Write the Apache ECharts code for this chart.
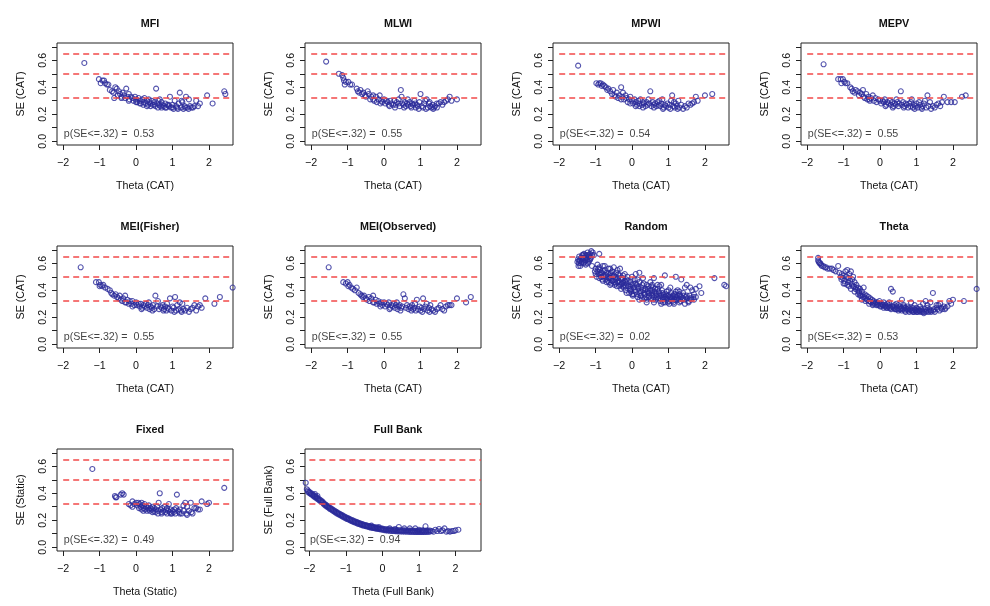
<!DOCTYPE html>
<html><head><meta charset="utf-8">
<script src="https://cdn.jsdelivr.net/npm/echarts@6/dist/echarts.min.js"></script>
<style>html,body{margin:0;padding:0;background:#fff}#c{width:990px;height:606px}</style>
</head><body><div id="c"></div>
<script>
// ---------------- DATA ----------------
const panelTitles = ['MFI','MLWI','MPWI','MEPV','MEI(Fisher)','MEI(Observed)','Random','Theta','Fixed','Full Bank'];
const xNames = ['Theta (CAT)','Theta (CAT)','Theta (CAT)','Theta (CAT)','Theta (CAT)','Theta (CAT)','Theta (CAT)','Theta (CAT)','Theta (Static)','Theta (Full Bank)'];
const yNames = ['SE (CAT)','SE (CAT)','SE (CAT)','SE (CAT)','SE (CAT)','SE (CAT)','SE (CAT)','SE (CAT)','SE (Static)','SE (Full Bank)'];
const pValues = ['0.53','0.55','0.54','0.55','0.55','0.55','0.02','0.53','0.49','0.94'];
const refLines = [0.32, 0.5, 0.65];
const refStart = -2;
const pTextPos = [-2, 0.055];
const xTicks = [-2,-1,0,1,2];
const yTicks = [0,0.1,0.2,0.3,0.4,0.5,0.6,0.7];
const yTickLabels = [0,0.2,0.4,0.6];
const yLimits = [-0.028, 0.728];
const xLimitsStd = [-2.17, 2.66];
const xLimitsFull = [-2.12, 2.70];

const mfi = [[-1.42,0.58],[-1.02,0.46],[-0.97,0.43],[-0.92,0.45],[-0.88,0.45],[-0.85,0.43],[-0.8,0.42],[-0.76,0.42],[-0.72,0.38],[-0.66,0.37],[-0.62,0.36],[-0.57,0.40],[-0.53,0.39],[-0.5,0.34],[-0.47,0.37],[-0.44,0.35],[-0.4,0.33],[-0.37,0.36],[-0.33,0.34],[-0.3,0.32],[-0.27,0.39],[-0.24,0.33],[-0.2,0.35],[-0.18,0.31],[-0.14,0.33],[-0.1,0.32],[-0.07,0.30],[-0.03,0.33],[0.0,0.31],[0.03,0.29],[0.07,0.32],[0.1,0.30],[0.13,0.28],[0.17,0.31],[0.2,0.29],[0.23,0.32],[0.26,0.28],[0.3,0.30],[0.33,0.27],[0.36,0.29],[0.4,0.28],[0.43,0.30],[0.46,0.27],[0.5,0.29],[0.53,0.26],[0.55,0.39],[0.58,0.28],[0.61,0.30],[0.64,0.27],[0.67,0.26],[0.7,0.29],[0.73,0.27],[0.76,0.26],[0.8,0.28],[0.83,0.25],[0.86,0.27],[0.9,0.26],[0.93,0.33],[0.96,0.25],[1.0,0.27],[1.03,0.24],[1.06,0.30],[1.1,0.26],[1.13,0.25],[1.17,0.28],[1.2,0.36],[1.23,0.25],[1.27,0.29],[1.3,0.24],[1.33,0.26],[1.37,0.33],[1.4,0.25],[1.44,0.24],[1.48,0.26],[1.52,0.25],[1.56,0.25],[1.6,0.26],[1.65,0.30],[1.7,0.26],[1.75,0.28],[1.95,0.34],[2.1,0.28],[2.42,0.37],[2.45,0.35],[0.2,0.27],[0.4,0.26],[0.6,0.25],[0.8,0.25],[1.0,0.25],[0.1,0.28],[-0.2,0.30],[0.3,0.26],[0.5,0.27],[0.7,0.25],[0.9,0.27],[1.15,0.24],[1.35,0.25],[0.0,0.29],[-0.4,0.32],[-0.6,0.32],[1.25,0.30],[1.45,0.31],[0.35,0.31],[0.65,0.31]];

const mlwi = [[-1.59,0.59],[-1.24,0.50],[-1.15,0.49],[-1.12,0.47],[-1.1,0.45],[-1.05,0.44],[-0.98,0.44],[-1.08,0.42],[-0.93,0.42],[-0.88,0.42],[-0.75,0.39],[-0.72,0.37],[-0.68,0.36],[-0.65,0.38],[-0.6,0.35],[-0.57,0.36],[-0.52,0.34],[-0.5,0.33],[-0.45,0.37],[-0.42,0.35],[-0.38,0.31],[-0.35,0.33],[-0.3,0.34],[-0.27,0.30],[-0.22,0.33],[-0.2,0.29],[-0.15,0.31],[-0.12,0.34],[-0.08,0.30],[-0.05,0.29],[0.0,0.31],[0.03,0.28],[0.07,0.30],[0.1,0.29],[0.13,0.27],[0.17,0.30],[0.2,0.28],[0.25,0.27],[0.28,0.30],[0.32,0.27],[0.35,0.29],[0.4,0.28],[0.43,0.26],[0.46,0.38],[0.48,0.33],[0.5,0.28],[0.53,0.27],[0.57,0.29],[0.6,0.26],[0.63,0.28],[0.67,0.27],[0.7,0.29],[0.73,0.26],[0.77,0.28],[0.8,0.27],[0.83,0.30],[0.87,0.25],[0.9,0.27],[0.93,0.26],[0.97,0.29],[1.0,0.35],[1.03,0.26],[1.07,0.25],[1.1,0.28],[1.13,0.30],[1.17,0.31],[1.2,0.25],[1.23,0.28],[1.27,0.26],[1.3,0.25],[1.33,0.27],[1.37,0.25],[1.4,0.26],[1.45,0.25],[1.5,0.28],[1.55,0.29],[1.6,0.27],[1.65,0.29],[1.7,0.30],[1.75,0.31],[1.8,0.33],[1.85,0.30],[2.0,0.31],[-0.1,0.28],[0.15,0.26],[0.3,0.25],[0.55,0.25],[0.75,0.25],[0.95,0.24],[1.15,0.24],[1.35,0.24],[-0.3,0.31],[0.4,0.31],[0.65,0.31],[0.85,0.28],[1.25,0.29],[1.45,0.28]];

const mpwi = [[-1.48,0.56],[-0.98,0.43],[-0.93,0.42],[-0.9,0.43],[-0.86,0.43],[-0.83,0.41],[-0.8,0.42],[-0.76,0.41],[-0.72,0.40],[-0.68,0.38],[-0.65,0.39],[-0.6,0.37],[-0.55,0.35],[-0.52,0.38],[-0.48,0.34],[-0.45,0.33],[-0.42,0.36],[-0.38,0.32],[-0.35,0.34],[-0.3,0.40],[-0.27,0.33],[-0.25,0.36],[-0.22,0.31],[-0.18,0.34],[-0.15,0.32],[-0.12,0.29],[-0.08,0.31],[-0.05,0.33],[0.0,0.30],[0.03,0.28],[0.07,0.31],[0.1,0.29],[0.13,0.27],[0.17,0.30],[0.2,0.28],[0.23,0.31],[0.27,0.27],[0.3,0.29],[0.33,0.28],[0.37,0.26],[0.4,0.29],[0.43,0.27],[0.47,0.28],[0.5,0.37],[0.53,0.26],[0.57,0.29],[0.6,0.27],[0.63,0.28],[0.67,0.26],[0.7,0.29],[0.73,0.27],[0.77,0.26],[0.8,0.28],[0.83,0.31],[0.87,0.25],[0.9,0.27],[0.93,0.26],[0.97,0.28],[1.0,0.25],[1.03,0.27],[1.07,0.30],[1.1,0.34],[1.13,0.26],[1.17,0.25],[1.2,0.28],[1.23,0.26],[1.27,0.30],[1.3,0.25],[1.35,0.27],[1.4,0.24],[1.45,0.26],[1.5,0.25],[1.55,0.28],[1.6,0.27],[1.65,0.28],[1.7,0.29],[1.75,0.33],[1.8,0.30],[2.0,0.34],[2.2,0.35],[-0.3,0.31],[0.1,0.26],[0.3,0.25],[0.6,0.25],[0.85,0.24],[1.05,0.24],[1.25,0.24],[0.45,0.31],[0.75,0.30],[1.15,0.29],[-0.05,0.28],[0.2,0.26]];

const mepv = [[-1.55,0.57],[-1.15,0.46],[-1.08,0.46],[-1.02,0.46],[-1.06,0.43],[-0.98,0.44],[-0.95,0.43],[-0.9,0.43],[-0.82,0.40],[-0.78,0.39],[-0.75,0.37],[-0.7,0.36],[-0.67,0.38],[-0.62,0.37],[-0.58,0.34],[-0.55,0.36],[-0.5,0.35],[-0.47,0.38],[-0.45,0.33],[-0.42,0.32],[-0.38,0.35],[-0.35,0.31],[-0.32,0.33],[-0.28,0.30],[-0.25,0.32],[-0.2,0.34],[-0.17,0.30],[-0.13,0.32],[-0.1,0.29],[-0.05,0.31],[0.0,0.30],[0.03,0.28],[0.07,0.30],[0.1,0.29],[0.13,0.31],[0.17,0.27],[0.2,0.29],[0.23,0.28],[0.27,0.30],[0.3,0.27],[0.33,0.29],[0.37,0.26],[0.4,0.28],[0.43,0.27],[0.47,0.29],[0.5,0.26],[0.53,0.28],[0.57,0.37],[0.6,0.27],[0.63,0.29],[0.67,0.26],[0.7,0.28],[0.73,0.27],[0.77,0.25],[0.8,0.28],[0.83,0.26],[0.87,0.31],[0.9,0.25],[0.93,0.27],[0.97,0.26],[1.0,0.28],[1.03,0.25],[1.07,0.29],[1.1,0.27],[1.13,0.25],[1.17,0.26],[1.2,0.28],[1.23,0.30],[1.27,0.25],[1.3,0.34],[1.33,0.26],[1.37,0.29],[1.4,0.24],[1.45,0.26],[1.5,0.25],[1.55,0.27],[1.6,0.28],[1.65,0.26],[1.7,0.29],[1.75,0.33],[1.85,0.29],[1.95,0.29],[2.05,0.29],[2.25,0.33],[2.35,0.34],[-0.3,0.31],[0.15,0.26],[0.35,0.25],[0.65,0.25],[0.95,0.24],[1.15,0.24],[0.45,0.31],[0.85,0.29]];

const meiFisher = [[-1.52,0.57],[-1.1,0.46],[-1.02,0.46],[-0.98,0.44],[-1.0,0.43],[-0.93,0.43],[-0.9,0.44],[-0.85,0.42],[-0.78,0.41],[-0.72,0.40],[-0.68,0.38],[-0.65,0.37],[-0.6,0.36],[-0.56,0.37],[-0.52,0.35],[-0.48,0.34],[-0.45,0.36],[-0.42,0.33],[-0.38,0.32],[-0.35,0.34],[-0.3,0.36],[-0.27,0.31],[-0.24,0.33],[-0.2,0.30],[-0.17,0.32],[-0.13,0.30],[-0.1,0.32],[-0.05,0.29],[0.0,0.31],[0.03,0.29],[0.07,0.30],[0.1,0.28],[0.13,0.30],[0.17,0.27],[0.2,0.29],[0.23,0.28],[0.27,0.30],[0.3,0.27],[0.33,0.29],[0.37,0.26],[0.4,0.28],[0.43,0.27],[0.47,0.29],[0.5,0.26],[0.53,0.36],[0.57,0.28],[0.6,0.32],[0.63,0.26],[0.67,0.28],[0.7,0.27],[0.73,0.29],[0.77,0.26],[0.8,0.28],[0.83,0.25],[0.87,0.27],[0.9,0.26],[0.93,0.34],[0.97,0.25],[1.0,0.28],[1.03,0.27],[1.07,0.35],[1.1,0.25],[1.13,0.29],[1.17,0.26],[1.2,0.31],[1.23,0.25],[1.27,0.30],[1.3,0.26],[1.35,0.25],[1.4,0.27],[1.45,0.24],[1.5,0.26],[1.55,0.27],[1.6,0.29],[1.65,0.25],[1.7,0.28],[1.75,0.29],[1.8,0.27],[1.9,0.34],[2.15,0.30],[2.3,0.35],[2.65,0.42],[-0.3,0.31],[0.15,0.26],[0.45,0.25],[0.75,0.25],[1.05,0.24],[1.25,0.24],[0.35,0.31],[0.85,0.30],[-0.1,0.28]];

const meiObserved = [[-1.52,0.57],[-1.12,0.46],[-1.05,0.45],[-1.0,0.46],[-0.98,0.43],[-0.95,0.44],[-0.9,0.42],[-0.85,0.41],[-0.8,0.40],[-0.75,0.42],[-0.7,0.38],[-0.65,0.37],[-0.62,0.36],[-0.58,0.35],[-0.55,0.36],[-0.5,0.34],[-0.47,0.33],[-0.42,0.35],[-0.4,0.32],[-0.35,0.34],[-0.3,0.36],[-0.27,0.31],[-0.23,0.33],[-0.2,0.30],[-0.16,0.32],[-0.12,0.30],[-0.08,0.31],[-0.05,0.29],[0.0,0.31],[0.03,0.28],[0.07,0.30],[0.1,0.29],[0.13,0.31],[0.17,0.27],[0.2,0.29],[0.23,0.28],[0.27,0.30],[0.3,0.27],[0.33,0.29],[0.37,0.26],[0.4,0.28],[0.43,0.29],[0.47,0.27],[0.5,0.28],[0.53,0.37],[0.57,0.34],[0.6,0.27],[0.63,0.29],[0.67,0.26],[0.7,0.28],[0.73,0.27],[0.77,0.29],[0.8,0.26],[0.83,0.27],[0.87,0.25],[0.9,0.33],[0.93,0.26],[0.97,0.28],[1.0,0.25],[1.03,0.27],[1.07,0.34],[1.1,0.26],[1.13,0.28],[1.17,0.30],[1.2,0.25],[1.23,0.27],[1.27,0.29],[1.3,0.26],[1.35,0.25],[1.4,0.24],[1.45,0.26],[1.5,0.27],[1.55,0.29],[1.6,0.26],[1.65,0.25],[1.7,0.28],[1.75,0.29],[1.8,0.29],[1.85,0.29],[2.0,0.34],[2.25,0.31],[2.38,0.35],[-0.3,0.31],[0.15,0.26],[0.45,0.25],[0.75,0.25],[1.05,0.24],[1.25,0.24],[0.35,0.31],[0.85,0.30],[-0.1,0.28]];

const randomSel = [[-1.5,0.61],[-1.48,0.63],[-1.46,0.60],[-1.45,0.65],[-1.43,0.62],[-1.42,0.58],[-1.4,0.64],[-1.38,0.61],[-1.37,0.66],[-1.35,0.63],[-1.33,0.60],[-1.32,0.67],[-1.3,0.64],[-1.28,0.62],[-1.27,0.59],[-1.25,0.66],[-1.23,0.63],[-1.22,0.68],[-1.2,0.61],[-1.18,0.65],[-1.17,0.62],[-1.15,0.67],[-1.13,0.64],[-1.12,0.69],[-1.1,0.66],[-1.08,0.68],[-1.05,0.66],[-0.9,0.67],[-1.45,0.62],[-1.4,0.60],[-1.35,0.66],[-1.3,0.61],[-1.25,0.64],[-1.2,0.66],[-1.15,0.63],[-1.47,0.58],[-1.38,0.63],[-1.28,0.66],[-1.33,0.64],[-1.22,0.60],
[-1.1,0.58],[-1.0,0.56],[-0.95,0.54],[-0.92,0.52],[-0.9,0.57],[-0.88,0.55],[-0.85,0.50],[-0.83,0.53],[-0.8,0.58],[-0.78,0.51],[-0.75,0.55],[-0.73,0.48],[-0.7,0.53],[-0.68,0.50],[-0.65,0.56],[-0.63,0.46],[-0.6,0.52],[-0.58,0.49],[-0.55,0.54],[-0.53,0.47],[-0.5,0.51],[-0.48,0.44],[-0.45,0.50],[-0.43,0.53],[-0.4,0.46],[-0.38,0.49],[-0.35,0.43],[-0.33,0.56],[-0.3,0.48],[-0.28,0.45],[-0.25,0.51],[-0.23,0.42],[-0.2,0.47],[-0.18,0.40],[-0.15,0.45],[-0.13,0.50],[-0.1,0.43],[-0.08,0.38],[-0.05,0.46],[-0.03,0.41],[0.0,0.44],[0.02,0.36],[0.05,0.42],[0.07,0.48],[0.1,0.39],[0.12,0.44],[0.15,0.35],[0.17,0.41],[0.2,0.46],[0.22,0.38],[0.25,0.42],[0.27,0.34],[0.3,0.40],[0.32,0.45],[0.35,0.37],[0.37,0.41],[0.4,0.33],[0.42,0.39],[0.45,0.43],[0.47,0.36],[0.5,0.40],[0.52,0.34],[0.55,0.38],[0.57,0.42],[0.6,0.35],[0.62,0.39],[0.65,0.33],[0.67,0.37],[0.7,0.41],[0.72,0.34],[0.75,0.38],[0.77,0.32],[0.8,0.36],[0.82,0.40],[0.85,0.33],[0.87,0.37],[0.9,0.31],[0.92,0.35],[0.95,0.39],[0.97,0.33],[1.0,0.36],[1.02,0.30],[1.05,0.34],[1.07,0.38],[1.1,0.32],[1.12,0.36],[1.15,0.33],[1.18,0.35],[1.2,0.39],[1.23,0.33],[1.25,0.36],[1.28,0.34],[1.3,0.37],[1.33,0.32],[1.35,0.35],[1.4,0.38],[1.45,0.33],[1.5,0.36],[1.55,0.31],[1.6,0.34],[1.65,0.40],[1.7,0.37],[1.75,0.35],[1.9,0.38],[2.26,0.49],[2.53,0.44],[2.58,0.43],
[-0.9,0.49],[-0.7,0.46],[-0.5,0.57],[-0.4,0.55],[-0.2,0.52],[0.0,0.50],[0.1,0.52],[0.3,0.49],[0.5,0.46],[0.8,0.44],[0.9,0.51],[1.2,0.50],[1.35,0.48],[1.6,0.42],[-0.6,0.44],[-0.3,0.41],[0.0,0.37],[0.2,0.33],[0.4,0.31],[0.6,0.31],[0.8,0.30],[1.0,0.32],[1.15,0.30],[1.3,0.31],[1.45,0.30],[1.55,0.32],[1.7,0.33],[-0.8,0.47],[-0.55,0.47],[-0.15,0.38],[0.35,0.34],[0.55,0.44],[0.75,0.43],[1.05,0.42],[1.25,0.40],[1.5,0.44],[-0.35,0.51],[0.15,0.48],[0.45,0.35],[0.65,0.36],[0.95,0.34],[1.1,0.35],[1.4,0.34],[-0.65,0.52],[-0.45,0.48],[-0.25,0.46],[-0.05,0.43],[0.25,0.39],[0.55,0.36],[0.85,0.35],[1.15,0.37],[-0.95,0.59],[-0.75,0.58],[-0.6,0.56],[0.2,0.53],[0.6,0.49],[1.75,0.41],[1.85,0.43],
[-1.0,0.52],[-0.97,0.50],[-0.93,0.56],[-0.87,0.52],[-0.82,0.48],[-0.78,0.54],[-0.72,0.51],[-0.67,0.47],[-0.62,0.49],[-0.57,0.45],[-0.52,0.50],[-0.47,0.46],[-0.42,0.43],[-0.37,0.47],[-0.32,0.44],[-0.27,0.49],[-0.22,0.44],[-0.17,0.43],[-0.12,0.47],[-0.07,0.41],[-0.02,0.39],[0.03,0.45],[0.08,0.40],[0.13,0.37],[0.18,0.43],[0.23,0.36],[0.28,0.44],[0.33,0.38],[0.38,0.35],[0.43,0.41],[0.48,0.38],[0.53,0.43],[0.58,0.33],[0.63,0.41],[0.68,0.35],[0.73,0.39],[0.78,0.34],[0.83,0.38],[0.88,0.35],[0.93,0.37],[0.98,0.31],[1.03,0.35],[1.08,0.33],[1.13,0.31],[1.18,0.37],[1.22,0.35],[1.27,0.33],[1.32,0.36],[1.38,0.33],[1.42,0.36],[1.47,0.35],[1.52,0.34],[1.58,0.36],[1.62,0.33],[1.68,0.35],[-0.85,0.53],[-0.65,0.49],[-0.45,0.45],[-0.25,0.43],[-0.05,0.40],[0.15,0.42],[0.35,0.40],[0.55,0.40],[0.75,0.36],[0.95,0.36],[1.1,0.34],[0.05,0.37],[0.25,0.36],[0.45,0.38],[0.65,0.38],[0.85,0.31],[1.2,0.33],[-0.55,0.51],[-0.35,0.46],[-0.15,0.48],[0.1,0.45],[0.4,0.44],[0.7,0.44],[1.0,0.40],[1.3,0.39],[1.45,0.42],[-1.02,0.54],[-0.8,0.50],[-0.58,0.53],[-0.38,0.52],[-0.18,0.46]];

const thetaSel = [[-1.7,0.64],[-1.7,0.62],[-1.68,0.61],[-1.66,0.60],[-1.64,0.60],[-1.62,0.59],[-1.6,0.58],[-1.56,0.58],[-1.52,0.57],[-1.48,0.57],[-1.44,0.56],[-1.38,0.56],[-1.32,0.56],[-1.28,0.55],[-1.22,0.54],[-1.15,0.58],[-1.12,0.53],[-1.08,0.50],[-1.05,0.52],[-1.02,0.49],[-1.0,0.51],[-0.98,0.47],[-0.95,0.54],[-0.92,0.50],[-0.9,0.55],[-0.88,0.46],[-0.86,0.49],[-0.84,0.52],[-0.8,0.54],[-0.78,0.45],[-0.76,0.48],[-0.74,0.50],[-0.72,0.43],[-0.7,0.46],[-0.68,0.41],[-0.65,0.44],[-0.62,0.40],[-0.6,0.42],[-0.57,0.38],[-0.55,0.41],[-0.52,0.36],[-0.5,0.39],[-0.47,0.35],[-0.45,0.42],[-0.42,0.37],[-0.4,0.34],[-0.37,0.36],[-0.35,0.33],[-0.32,0.35],[-0.3,0.32],[-0.27,0.34],[-0.25,0.31],[-0.22,0.33],[-0.2,0.30],[-0.17,0.32],[-0.15,0.30],[-0.12,0.31],[-0.1,0.29],[-0.07,0.31],[-0.05,0.29],[-0.02,0.32],[0.0,0.30],[0.03,0.28],[0.05,0.30],[0.08,0.29],[0.1,0.31],[0.13,0.28],[0.15,0.29],[0.18,0.27],[0.2,0.30],[0.23,0.28],[0.25,0.29],[0.28,0.27],[0.3,0.41],[0.33,0.28],[0.35,0.39],[0.38,0.27],[0.4,0.29],[0.43,0.26],[0.45,0.28],[0.48,0.27],[0.5,0.29],[0.53,0.26],[0.55,0.28],[0.58,0.27],[0.6,0.33],[0.63,0.26],[0.65,0.28],[0.68,0.25],[0.7,0.27],[0.73,0.26],[0.75,0.28],[0.78,0.25],[0.8,0.27],[0.83,0.26],[0.85,0.31],[0.88,0.25],[0.9,0.27],[0.93,0.24],[0.95,0.26],[0.98,0.25],[1.0,0.27],[1.03,0.24],[1.05,0.26],[1.08,0.25],[1.1,0.24],[1.13,0.26],[1.15,0.25],[1.18,0.30],[1.2,0.24],[1.23,0.26],[1.25,0.32],[1.28,0.25],[1.3,0.27],[1.33,0.24],[1.35,0.26],[1.38,0.31],[1.4,0.25],[1.45,0.38],[1.48,0.26],[1.5,0.24],[1.55,0.27],[1.6,0.29],[1.63,0.25],[1.65,0.30],[1.7,0.26],[1.75,0.28],[1.8,0.27],[1.85,0.28],[1.9,0.32],[1.95,0.30],[2.0,0.33],[2.3,0.32],[2.65,0.41],[-0.9,0.44],[-0.7,0.39],[-0.55,0.36],[-0.4,0.32],[-0.2,0.29],[0.0,0.28],[0.2,0.27],[0.4,0.26],[0.6,0.25],[0.8,0.24],[1.0,0.24],[-0.8,0.41],[-0.6,0.37],[-0.3,0.30],[0.1,0.27],[0.3,0.26],[0.5,0.25],[0.7,0.24],[0.9,0.24],[1.2,0.23],[1.4,0.24],[-0.5,0.33],[0.25,0.31],[0.45,0.30],[0.65,0.29],[0.95,0.29],[1.1,0.28],[1.3,0.29],[1.55,0.29],[-1.0,0.45],[-0.85,0.43],
[-1.06,0.48],[-0.96,0.45],[-0.82,0.47],[-0.75,0.43],[-0.66,0.42],[-0.58,0.39],[-0.48,0.37],[-0.43,0.35],[-0.36,0.33],[-0.28,0.32],[-0.18,0.31],[-0.08,0.30],[0.06,0.29],[0.16,0.28],[0.26,0.27],[0.36,0.28],[0.46,0.26],[0.56,0.26],[0.66,0.27],[0.76,0.26],[0.86,0.25],[0.96,0.25],[1.06,0.25],[1.16,0.24],[1.26,0.24],[1.36,0.25],[1.46,0.25],[1.58,0.26],[1.68,0.27],[1.78,0.26]];

const fixedForm = [[-1.2,0.58],[-0.58,0.38],[-0.56,0.37],[-0.54,0.37],[-0.42,0.39],[-0.38,0.40],[-0.34,0.39],[-0.2,0.32],[-0.15,0.31],[-0.1,0.34],[-0.05,0.32],[0.0,0.33],[0.03,0.31],[0.06,0.33],[0.08,0.29],[0.1,0.32],[0.13,0.30],[0.15,0.28],[0.18,0.31],[0.2,0.29],[0.23,0.32],[0.25,0.28],[0.28,0.30],[0.3,0.27],[0.33,0.29],[0.35,0.31],[0.38,0.27],[0.4,0.29],[0.43,0.28],[0.45,0.30],[0.48,0.27],[0.5,0.29],[0.53,0.26],[0.55,0.28],[0.58,0.30],[0.6,0.27],[0.62,0.33],[0.65,0.40],[0.67,0.28],[0.7,0.26],[0.72,0.29],[0.75,0.27],[0.78,0.30],[0.8,0.26],[0.83,0.28],[0.85,0.25],[0.88,0.27],[0.9,0.32],[0.93,0.26],[0.95,0.28],[0.98,0.25],[1.0,0.27],[1.03,0.26],[1.05,0.28],[1.08,0.25],[1.12,0.39],[1.15,0.27],[1.18,0.26],[1.2,0.28],[1.25,0.25],[1.3,0.27],[1.35,0.33],[1.38,0.25],[1.4,0.30],[1.45,0.27],[1.5,0.33],[1.52,0.26],[1.55,0.25],[1.6,0.29],[1.65,0.29],[1.7,0.28],[1.75,0.28],[1.8,0.34],[1.95,0.32],[2.0,0.33],[2.42,0.44],[0.2,0.27],[0.45,0.26],[0.7,0.25],[0.95,0.25],[1.2,0.25],[1.4,0.24],[0.35,0.28],[0.6,0.25],[0.85,0.29],[1.1,0.29],[-0.1,0.30],[0.15,0.33],[1.3,0.31]];

const fullBank = [[-2.1,0.478],[-2.07,0.43],[-2.04,0.42],[-2.04,0.41],[-2.0,0.41],[-2.0,0.402],[-1.96,0.402],[-1.96,0.394],[-1.92,0.394],[-1.92,0.386],[-1.88,0.386],[-1.88,0.378],[-1.84,0.378],[-1.84,0.37],[-1.8,0.37],[-1.8,0.362],[-1.76,0.362],[-1.76,0.354],[-1.72,0.354],[-1.72,0.346],[-1.68,0.346],[-1.68,0.338],[-1.64,0.338],[-1.64,0.33],[-1.6,0.325],[-1.6,0.317],[-1.56,0.317],[-1.56,0.309],[-1.52,0.309],[-1.52,0.301],[-1.48,0.301],[-1.48,0.293],[-1.44,0.293],[-1.44,0.285],[-1.4,0.286],[-1.4,0.278],[-1.36,0.279],[-1.36,0.271],[-1.32,0.272],[-1.32,0.264],[-1.28,0.265],[-1.28,0.257],[-1.24,0.258],[-1.24,0.25],[-1.2,0.252],[-1.2,0.244],[-1.16,0.246],[-1.16,0.238],[-1.12,0.24],[-1.12,0.232],[-1.08,0.234],[-1.08,0.226],[-1.04,0.228],[-1.04,0.22],[-1.0,0.222],[-1.0,0.214],[-0.96,0.217],[-0.96,0.209],[-0.92,0.212],[-0.92,0.204],[-0.88,0.207],[-0.88,0.199],[-0.84,0.202],[-0.84,0.194],[-0.8,0.197],[-0.8,0.189],[-0.76,0.192],[-0.76,0.185],[-0.72,0.188],[-0.72,0.18],[-0.68,0.184],[-0.68,0.176],[-0.64,0.18],[-0.64,0.172],[-0.6,0.176],[-0.6,0.168],[-0.56,0.172],[-0.56,0.164],[-0.52,0.168],[-0.52,0.161],[-0.48,0.165],[-0.48,0.158],[-0.44,0.162],[-0.44,0.155],[-0.4,0.159],[-0.4,0.152],[-0.36,0.156],[-0.36,0.149],[-0.32,0.153],[-0.32,0.146],[-0.28,0.151],[-0.28,0.144],[-0.24,0.149],[-0.24,0.142],[-0.2,0.147],[-0.2,0.14],[-0.16,0.145],[-0.16,0.138],[-0.12,0.143],[-0.12,0.136],[-0.08,0.141],[-0.08,0.134],[-0.04,0.139],[-0.04,0.132],[0.0,0.138],[0.0,0.13],[0.05,0.135],[0.05,0.127],[0.1,0.133],[0.1,0.125],[0.15,0.132],[0.15,0.124],[0.2,0.131],[0.2,0.122],[0.25,0.13],[0.25,0.121],[0.3,0.129],[0.3,0.12],[0.35,0.128],[0.35,0.119],[0.4,0.127],[0.4,0.118],[0.45,0.126],[0.45,0.117],[0.5,0.126],[0.5,0.117],[0.55,0.125],[0.55,0.116],[0.6,0.125],[0.6,0.116],[0.65,0.124],[0.65,0.115],[0.7,0.124],[0.7,0.115],[0.75,0.123],[0.75,0.114],[0.8,0.123],[0.8,0.114],[0.85,0.123],[0.85,0.114],[0.9,0.122],[0.9,0.113],[0.95,0.122],[0.95,0.113],[1.0,0.122],[1.0,0.113],[1.05,0.122],[1.05,0.113],[1.1,0.122],[1.1,0.113],[1.15,0.122],[1.15,0.113],[1.2,0.123],[1.2,0.114],[1.25,0.123],[1.25,0.114],[1.3,0.124],[1.3,0.115],[1.35,0.12],[1.4,0.115],[1.45,0.13],[1.5,0.12],[1.55,0.135],[1.6,0.12],[1.65,0.125],[1.7,0.14],[1.75,0.115],[1.8,0.12],[1.85,0.115],[1.9,0.12],[1.95,0.12],[2.0,0.125],[2.08,0.13],[0.45,0.15],[0.6,0.14],[0.75,0.14],[0.9,0.14],[1.18,0.155],[1.0,0.13],[1.1,0.125],[-0.3,0.16],[-0.1,0.15],[0.2,0.14],[0.35,0.135],[-1.85,0.395],[-1.78,0.38]];

const panelData = [mfi, mlwi, mpwi, mepv, meiFisher, meiObserved, randomSel, thetaSel, fixedForm, fullBank];
const panelXLimits = [xLimitsStd,xLimitsStd,xLimitsStd,xLimitsStd,xLimitsStd,xLimitsStd,xLimitsStd,xLimitsStd,xLimitsStd,xLimitsFull];

// ---------------- LAYOUT / STYLE ----------------
const colLeft = [57, 305, 553, 801];
const rowTop = [43, 246, 449];
const W = 176, H = 102;
const FONT = '"Liberation Sans", Arial, Helvetica, sans-serif';
const FS = 10.7;
const TXT = '#111';
const PT = '#2a2a9a';
const RED = '#f24a4a';

const chart = echarts.init(document.getElementById('c'), null, {renderer: 'canvas'});
const grids = [], xAxes = [], yAxes = [], series = [], titles = [];
const fmtMinus = v => (v < 0 ? '\u2212' + Math.abs(v) : String(v));

panelData.forEach((data, i) => {
  const r = Math.floor(i / 4), c = i % 4;
  const left = colLeft[c], top = rowTop[r];
  grids.push({left: left, top: top, width: W, height: H, show: true, borderColor: '#222', borderWidth: 1,
    backgroundColor: 'transparent', containLabel: false, outerBoundsMode: 'none'});
  xAxes.push({
    type: 'value', gridIndex: i, min: panelXLimits[i][0], max: panelXLimits[i][1], position: 'bottom',
    axisLine: {show: false, onZero: false}, splitLine: {show: false},
    axisTick: {show: true, length: 5, customValues: xTicks, lineStyle: {color: '#222', width: 1}},
    axisLabel: {show: true, customValues: xTicks, formatter: fmtMinus, margin: 13, fontSize: FS, color: TXT, fontFamily: FONT},
    name: xNames[i], nameLocation: 'middle', nameGap: 36,
    nameTextStyle: {fontSize: FS, color: TXT, fontFamily: FONT}
  });
  yAxes.push({
    type: 'value', gridIndex: i, min: yLimits[0], max: yLimits[1], position: 'left',
    axisLine: {show: false, onZero: false}, splitLine: {show: false},
    axisTick: {show: true, length: 5, customValues: yTicks, lineStyle: {color: '#222', width: 1}},
    axisLabel: {show: true, customValues: yTickLabels, rotate: 90, formatter: v => v.toFixed(1), margin: 8, fontSize: FS, color: TXT, fontFamily: FONT},
    name: yNames[i], nameLocation: 'middle', nameGap: 30, nameRotate: 90,
    nameTextStyle: {fontSize: FS, color: TXT, fontFamily: FONT}
  });
  titles.push({text: panelTitles[i], left: left + W / 2, top: top - 29, textAlign: 'center',
    textStyle: {fontSize: 10.8, fontWeight: 'bold', color: TXT, fontFamily: FONT}});
  series.push({
    type: 'scatter', xAxisIndex: i, yAxisIndex: i, data: data, symbol: 'circle', symbolSize: 5,
    itemStyle: {color: 'rgba(0,0,0,0)', borderColor: PT, borderWidth: 1.1}, silent: true, z: 2
  });
  series.push({
    type: 'scatter', xAxisIndex: i, yAxisIndex: i, data: [pTextPos], symbolSize: 1,
    itemStyle: {color: 'rgba(0,0,0,0)'}, silent: true, z: 4,
    label: {show: true, position: 'right', distance: 0, formatter: 'p(SE<=.32) =  ' + pValues[i],
      fontSize: FS, color: TXT, fontFamily: FONT},
    markLine: {
      silent: true, symbol: ['none', 'none'], label: {show: false},
      lineStyle: {color: RED, type: [6, 4], width: 1.5},
      data: refLines.map(v => [{coord: [refStart, v]}, {coord: [panelXLimits[i][1], v]}])
    }
  });
});

chart.setOption({
  animation: false, backgroundColor: '#fff',
  title: titles, grid: grids, xAxis: xAxes, yAxis: yAxes, series: series
});
</script>
</body></html>
